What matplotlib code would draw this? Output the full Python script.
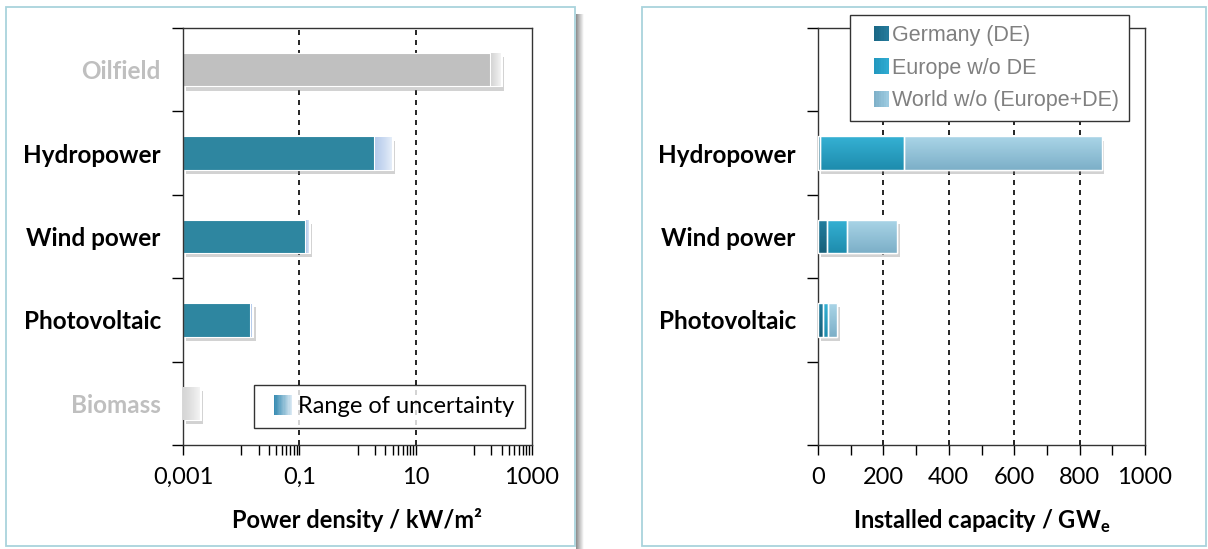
import numpy as np
import matplotlib
matplotlib.use("Agg")
import matplotlib.pyplot as plt
import matplotlib.patheffects as pe
from matplotlib.colors import LinearSegmentedColormap
from matplotlib.patches import Rectangle, Patch
from matplotlib.legend_handler import HandlerBase

plt.rcParams['font.family'] = ['Lato', 'DejaVu Sans']

# power density per source, kW/m2 (main value and upper end of uncertainty)
sources = ["Oilfield", "Hydropower", "Wind power", "Photovoltaic", "Biomass"]
density_low = [200, 2, 0.13, 0.015, 0.001]
density_high = [300, 4, 0.15, 0.016, 0.002]
source_grey = [True, False, False, False, True]

# installed capacity, GW_e
techs = ["Hydropower", "Wind power", "Photovoltaic"]
cap_germany = [5, 28, 15]
cap_europe = [258, 60, 15]
cap_world = [604, 153, 28]
region_names = ["Germany (DE)", "Europe w/o DE", "World w/o (Europe+DE)"]

W, H = 1208, 549
TEAL = "#2E86A0"
GREY_TXT = "#BFBFBF"
BAR_H = 0.4
shadow = [pe.SimplePatchShadow(offset=(2, -3), shadow_rgbFace="#7f7f7f", alpha=0.35),
          pe.Normal()]


def fx(px):
    return px / W


def fy(py):
    return 1 - py / H


def gradient_fill(ax, patch, colors, horizontal=False, z=3):
    x0, y0 = patch.get_x(), patch.get_y()
    x1, y1 = x0 + patch.get_width(), y0 + patch.get_height()
    g = np.linspace(0, 1, 64)
    arr = g[None, :] if horizontal else g[:, None]
    cmap = LinearSegmentedColormap.from_list("g", colors)
    im = ax.imshow(arr, cmap=cmap, extent=[x0, x1, y0, y1], origin="lower",
                   aspect="auto", interpolation="bilinear", zorder=z)
    im.set_clip_path(patch)
    return im


class SquareHandler(HandlerBase):
    """Small colour square at the right end of the handle box, optionally a
    horizontal gradient."""

    def __init__(self, colors, size, n=1):
        super().__init__()
        self.cmap = LinearSegmentedColormap.from_list("lg", colors)
        self.size = size
        self.n = n

    def create_artists(self, legend, orig_handle, xdescent, ydescent,
                       width, height, fontsize, trans):
        w, h = self.size
        x0 = -xdescent + width - w
        y0 = -ydescent + (height - h) / 2
        step = w / self.n
        arts = []
        for i in range(self.n):
            c = self.cmap(i / max(self.n - 1, 1))
            arts.append(Rectangle((x0 + i * step, y0), step * 1.05, h,
                                  facecolor=c, edgecolor="none", transform=trans))
        return arts


fig = plt.figure(figsize=(W / 100, H / 100), dpi=100)

# panel frames with a soft shadow on the right side
for (l, r) in [(6, 575), (642, 1206)]:
    fig.patches.append(Rectangle((fx(l), fy(546)), fx(r - l), (546 - 7) / H,
                                 transform=fig.transFigure, facecolor="none",
                                 edgecolor="#A9D3DC", lw=1.3, zorder=-1))
sh = fig.add_axes([fx(576), 0, fx(8), (549 - 14) / H])
sh.imshow(np.linspace(0, 1, 32)[None, :], cmap=LinearSegmentedColormap.from_list(
    "s", ["#8c8c8c", "#ffffff"]), aspect="auto", extent=[0, 1, 0, 1])
sh.axis("off")

ax_rect_y = fy(445)
ax_rect_h = (445 - 28) / H
ax1 = fig.add_axes([fx(183), ax_rect_y, fx(532 - 183), ax_rect_h])
ax2 = fig.add_axes([fx(818), ax_rect_y, fx(1145 - 818), ax_rect_h])

# ---------------- left: power density (log axis) ----------------
n = len(sources)
ypos = np.arange(n)[::-1]
ax1.set_xscale("log")
for y, lo, hi, grey in zip(ypos, density_low, density_high, source_grey):
    if lo > 0.001:
        b = ax1.barh(y, lo - 0.001, left=0.001, height=BAR_H,
                     color="#C0C0C0" if grey else TEAL, edgecolor="white", lw=0.8,
                     zorder=2)[0]
        b.set_path_effects(shadow)
    ub = ax1.barh(y, hi - lo, left=lo, height=BAR_H, color="#EEEEEE",
                  edgecolor="white", lw=1.5, zorder=2)[0]
    ub.set_path_effects(shadow)
    cols = ["#D6D6D6", "#F7F7F7"] if grey else ["#B7CCEC", "#EAF1FA"]
    gradient_fill(ax1, ub, cols, horizontal=True)

for xv in [0.1, 10]:
    ax1.axvline(xv, color="black", lw=1.2, ls=(0, (3, 3)), zorder=1)

ax1.set_xlim(0.001, 1000)
ax1.set_ylim(-0.5, n - 0.5)
ax1.set_xticks([0.001, 0.1, 10, 1000])
ax1.set_xticklabels(["0,001", "0,1", "10", "1000"])
minor = [d * 10 * m for d in [0.001, 0.1, 10] for m in range(1, 10)]
ax1.set_xticks(minor, minor=True)
ax1.set_xticklabels([], minor=True)
ax1.set_xlabel("Power density / kW/m\u00b2", fontsize=17, fontweight="bold",
               labelpad=14)

leg1 = ax1.legend([Patch()], ["Range of uncertainty"],
                  handler_map={Patch: SquareHandler(["#3A8DB3", "#D8E8F3"],
                                                    (13, 14), n=14)},
                  loc="lower right", bbox_to_anchor=(0.98, 0.041), borderaxespad=0,
                  fontsize=17, frameon=True, fancybox=False, handlelength=1.15,
                  handleheight=0.9, handletextpad=0.25, borderpad=0.45)
leg1.get_frame().set_edgecolor("black")
leg1.get_frame().set_linewidth(1.0)

# ---------------- right: installed capacity ----------------
slots = 5
tech_y = [3, 2, 1]
seg_cols = [["#165F79", "#2280A0"], ["#1E8CAD", "#35B1D4"], ["#7CAFC7", "#AAD5E8"]]
left = np.zeros(len(techs))
for vals, cols in zip([cap_germany, cap_europe, cap_world], seg_cols):
    bars = ax2.barh(tech_y, vals, left=left, height=BAR_H, color=cols[1],
                    edgecolor="white", lw=1.0, zorder=2)
    for b in bars:
        b.set_path_effects(shadow)
        gradient_fill(ax2, b, cols)
    ax2.barh(tech_y, vals, left=left, height=BAR_H, fill=False,
             edgecolor="white", lw=1.0, zorder=4)
    left += np.array(vals)

for xv in [200, 400, 600, 800]:
    ax2.axvline(xv, color="black", lw=1.2, ls=(0, (3, 3)), zorder=1)

ax2.set_xlim(0, 1000)
ax2.set_ylim(-0.5, slots - 0.5)
ax2.set_xticks(np.arange(0, 1001, 200))
ax2.set_xticks(np.arange(100, 1000, 200), minor=True)
ax2.set_xlabel("Installed capacity / GW$_\\mathregular{e}$", fontsize=17,
               fontweight="bold", labelpad=14)

legend_cols = [["#1A6886", "#24799A"], ["#2298BF", "#2FAAD0"], ["#7FB1C9", "#9CCAE0"]]
reg_handles = [Patch(label=nm) for nm in region_names]
leg2 = ax2.legend(reg_handles, region_names, loc="upper left",
                  bbox_to_anchor=(0.098, 1.031), borderaxespad=0,
                  handler_map={h: SquareHandler(c, (11, 11), n=6)
                               for h, c in zip(reg_handles, legend_cols)},
                  prop={"family": ["Liberation Sans Narrow", "Liberation Sans"],
                        "size": 15.5},
                  labelcolor="#808080", frameon=True, fancybox=False,
                  handlelength=1.35, handleheight=0.7, handletextpad=0.15,
                  labelspacing=0.55, borderpad=0.45, framealpha=1)
leg2.get_frame().set_edgecolor("#333333")
leg2.get_frame().set_linewidth(1.0)
leg2.set_zorder(10)

# shared axis styling
for ax, labels, ys in [(ax1, sources, ypos), (ax2, techs, tech_y)]:
    ax.set_yticks(np.arange(-0.5, slots, 1.0))
    ax.set_yticklabels([])
    ax.set_yticks(ys, minor=True)
    ax.set_yticklabels(labels, minor=True, fontsize=17.5, fontweight="bold")
    ax.tick_params(axis="y", which="major", direction="out", length=8, width=1)
    ax.tick_params(axis="y", which="minor", length=0, pad=16)
    ax.tick_params(axis="x", which="major", direction="out", length=7, width=1,
                   labelsize=17, pad=9)
    ax.tick_params(axis="x", which="minor", direction="out", length=7, width=1)
    for s in ax.spines.values():
        s.set_color("#333333")
        s.set_linewidth(1.0)

for lab, grey in zip(ax1.get_yticklabels(minor=True), source_grey):
    if grey:
        lab.set_color(GREY_TXT)

fig.savefig("out.png", dpi=100)
